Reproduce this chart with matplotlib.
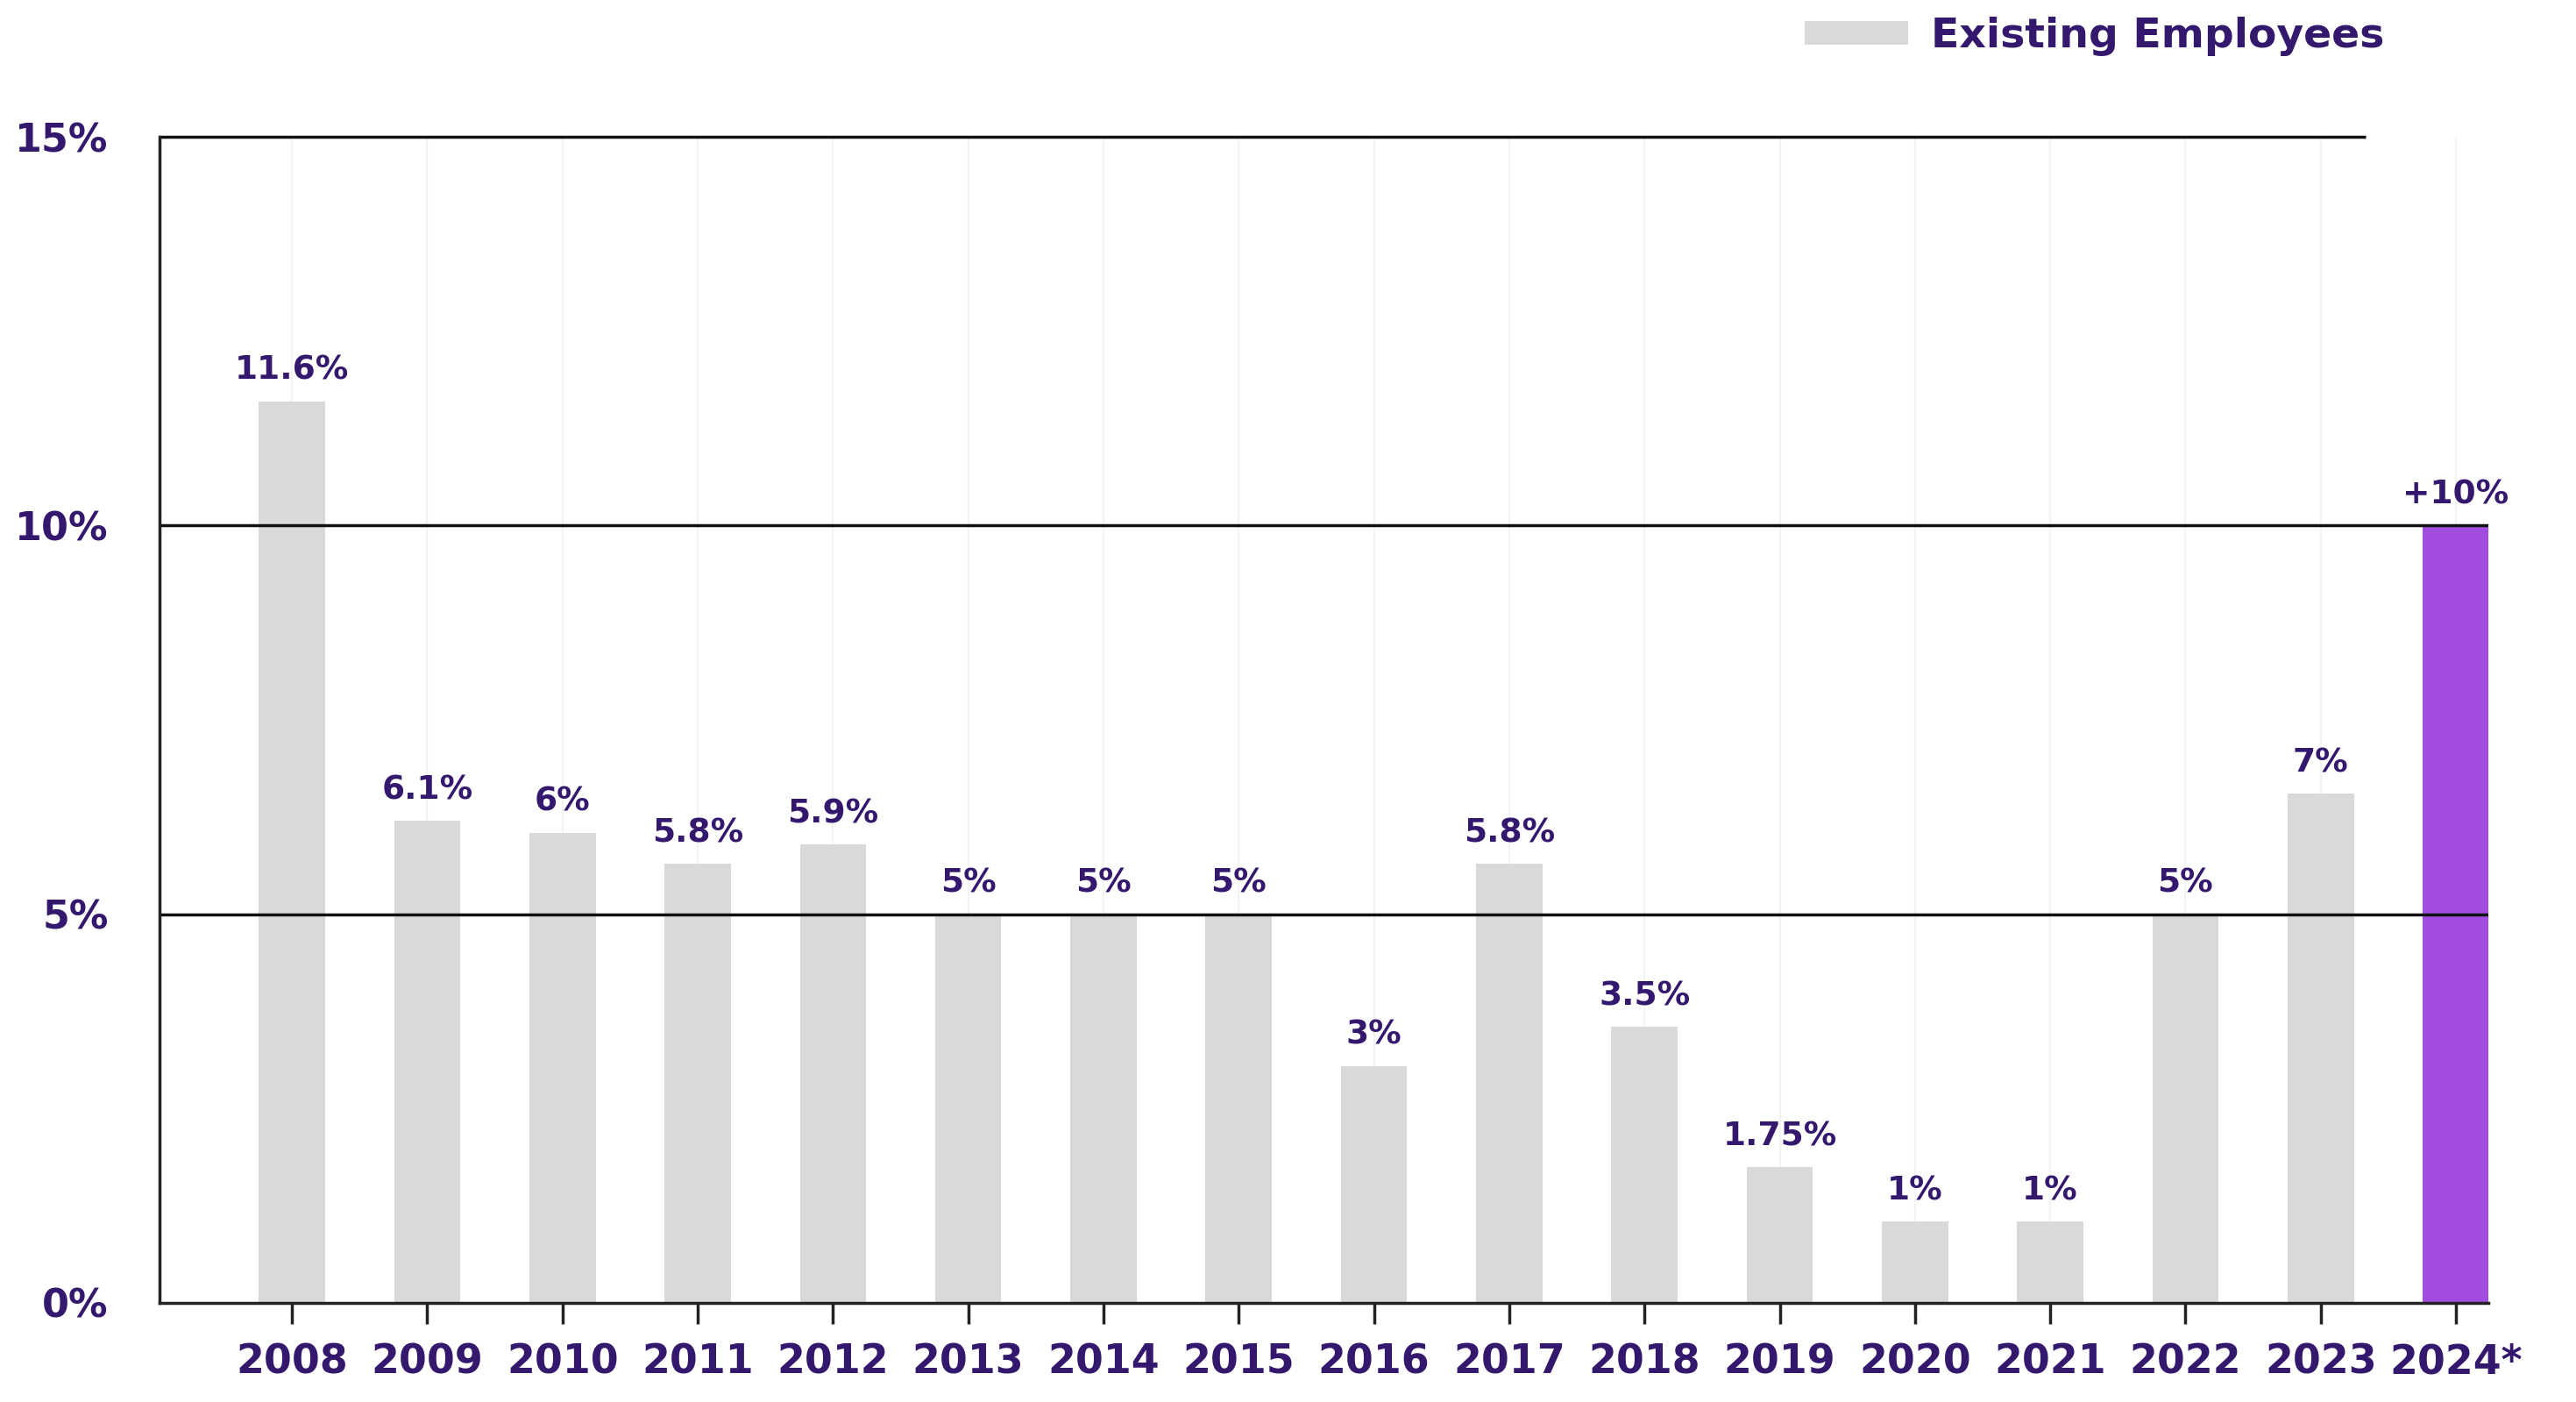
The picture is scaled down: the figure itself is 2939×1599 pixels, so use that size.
import matplotlib
matplotlib.use("Agg")
import matplotlib.pyplot as plt
from matplotlib.patches import Patch

years = ["2008", "2009", "2010", "2011", "2012", "2013", "2014", "2015", "2016",
         "2017", "2018", "2019", "2020", "2021", "2022", "2023", "2024*"]
# bar heights as drawn in the picture
heights = [11.6, 6.2, 6.05, 5.65, 5.9, 5.0, 5.0, 5.0, 3.05,
           5.65, 3.55, 1.75, 1.05, 1.05, 5.0, 6.55, 10.0]
labels = ["11.6%", "6.1%", "6%", "5.8%", "5.9%", "5%", "5%", "5%", "3%",
          "5.8%", "3.5%", "1.75%", "1%", "1%", "5%", "7%", "+10%"]
yticks = [0, 5, 10, 15]
ytick_labels = ["0%", "5%", "10%", "15%"]

gray = "#d9d9d9"
purple = "#a24ddf"
txt = "#33186e"

plt.rcParams["font.family"] = ["DejaVu Sans"]
plt.rcParams["font.weight"] = "bold"

fig = plt.figure(figsize=(29.39, 15.99), dpi=100)
ax = fig.add_axes([0.0619, 0.0707, 0.9041, 0.8317])

x = list(range(len(years)))
colors = [gray] * (len(years) - 1) + [purple]
bars = ax.bar(x, heights, width=0.49, color=colors, zorder=2)

# faint vertical guides
for xi in x:
    ax.axvline(xi, color="#f3f3f3", lw=1.5, zorder=0)

for b, lab in zip(bars, labels):
    ax.annotate(lab, (b.get_x() + b.get_width() / 2, b.get_height()),
                xytext=(0, 12), textcoords="offset points",
                ha="center", va="bottom", fontsize=27, color=txt, fontweight="bold")

ax.set_xlim(-0.98, 16.24)
ax.set_ylim(0, 15)

for yv in [5, 10]:
    ax.axhline(yv, color="#111111", lw=2.5, zorder=3)
ax.hlines(15, -0.98, 15.33, color="#111111", lw=2.5, zorder=3, clip_on=False)

for s in ["top", "right"]:
    ax.spines[s].set_visible(False)
for s in ["left", "bottom"]:
    ax.spines[s].set_linewidth(2.5)
    ax.spines[s].set_color("#222222")
    ax.spines[s].set_zorder(4)

ax.set_xticks(x)
ax.set_xticklabels(years, fontsize=33, color=txt, fontweight="bold")
ax.tick_params(axis="x", length=17, width=2.5, color="#222222", pad=16)
ax.set_yticks(yticks)
ax.set_yticklabels(ytick_labels, fontsize=32, color=txt, fontweight="bold")
ax.tick_params(axis="y", length=0, pad=42)

leg = fig.legend(handles=[Patch(facecolor=gray, edgecolor="none", label="Existing Employees")],
                 loc="center", bbox_to_anchor=(0.813, 0.974), frameon=False,
                 handlelength=2.5, handleheight=0.5, handletextpad=0.55,
                 prop={"size": 34, "weight": "bold"})
for t in leg.get_texts():
    t.set_color(txt)

fig.savefig("out.png", dpi=100)
